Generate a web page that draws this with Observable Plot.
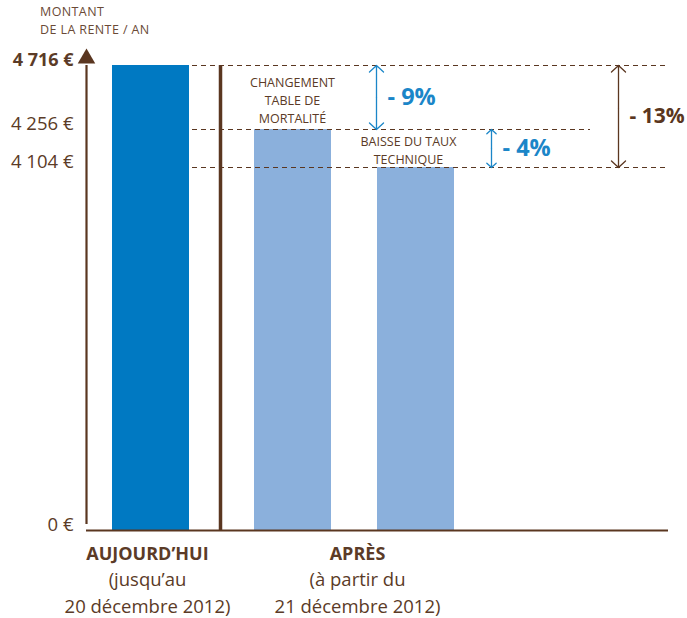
<!DOCTYPE html>
<html><head><meta charset="utf-8">
<script src="https://cdn.jsdelivr.net/npm/d3@7"></script>
<script src="https://cdn.jsdelivr.net/npm/@observablehq/plot@0.6"></script>
<style>
body{margin:0;background:#fff;font-family:"Open Sans",sans-serif;}
#wrap{width:687px;height:618px;position:relative;}
#ylab{height:42px;box-sizing:border-box;padding:3px 0 0 40px;font-size:12.5px;line-height:18px;color:#6a4a36;letter-spacing:0.4px;}
</style></head>
<body><div id="wrap"><div id="ylab">MONTANT<br>DE LA RENTE / AN</div><div id="chart"></div></div>
<script>
// values (€ per year)
const valueToday = 4716;
const valueMortality = 4256;
const valueAfter = 4104;
const yTicks = [0, 4104, 4256, 4716];
const yTickLabels = ["0 €", "4 104 €", "4 256 €", "4 716 €"];
const bars = [
  {name: "Aujourd'hui", value: valueToday, x1: 26, x2: 103, color: "#0079C2"},
  {name: "Après (mortalité)", value: valueMortality, x1: 168, x2: 245, color: "#8BB0DC"},
  {name: "Après (taux)", value: valueAfter, x1: 291, x2: 368, color: "#8BB0DC"}
];
const guides = [
  {y: valueToday, x1: 106, x2: 582},
  {y: valueMortality, x1: 106, x2: 504},
  {y: valueAfter, x1: 106, x2: 582}
];
const changes = [
  {from: valueToday, to: valueMortality, x: 290, label: "- 9%", labelY: 4486, color: "#1B86C8", size: 23.5},
  {from: valueMortality, to: valueAfter, x: 405, label: "- 4%", labelY: 4180, color: "#1B86C8", size: 23.5},
  {from: valueToday, to: valueAfter, x: 532, label: "- 13%", labelY: 4350, color: "#5A3620", size: 21}
];
const notes = [
  {text: "CHANGEMENT\nTABLE DE\nMORTALITÉ", x: 206, y: 4472},
  {text: "BAISSE DU TAUX\nTECHNIQUE", x: 322, y: 4176}
];
const groups = [
  {title: "AUJOURD’HUI", line1: "(jusqu’au", line2: "20 décembre 2012)", x: 61},
  {title: "APRÈS", line1: "(à partir du", line2: "21 décembre 2012)", x: 271}
];
const separatorX = 134;

const brown = "#5A3620";
const textBrown = "#5B3B27";

const chart = Plot.plot({
  width: 687,
  height: 576,
  marginLeft: 86,
  marginRight: 19,
  marginTop: 23,
  marginBottom: 88,
  style: {fontFamily: "'Open Sans', sans-serif", background: "#fff"},
  x: {type: "linear", domain: [0, 582], axis: null},
  y: {type: "linear", domain: [0, valueAfter, valueMortality, valueToday], range: [488, 125, 87, 23], axis: null},
  marks: [
    Plot.rectY(bars, {x1: "x1", x2: "x2", y: "value", fill: "color"}),
    Plot.ruleY(guides, {y: "y", x1: "x1", x2: "x2", stroke: brown, strokeWidth: 1, strokeDasharray: "5,4"}),
    Plot.ruleX([separatorX], {y1: 0, y2: valueToday, stroke: brown, strokeWidth: 3.5}),
    // y axis with arrow head
    Plot.ruleX([0], {y1: 0, y2: valueToday, stroke: brown, strokeWidth: 2.2, insetTop: -6}),
    Plot.dot([valueToday], {x: () => 0, y: d => d, dy: -7, symbol: "triangle", r: 6.5, fill: brown, stroke: "none"}),
    Plot.ruleY([0], {x1: 0, x2: 582, stroke: brown, strokeWidth: 2.2}),
    // y tick labels
    Plot.text(yTicks.slice(0, 3), {y: d => d, text: (d, i) => yTickLabels[i], frameAnchor: "left", textAnchor: "end", dx: -13, dy: -5, fontSize: 18.5, fill: textBrown}),
    Plot.text([valueToday], {y: d => d, text: () => yTickLabels[3], frameAnchor: "left", textAnchor: "end", dx: -13, dy: -5, fontSize: 18, fontWeight: "bold", fill: textBrown}),
    // change arrows (double headed)
    Plot.arrow(changes, {x1: "x", x2: "x", y1: d => (d.from + d.to) / 2, y2: "from", stroke: "color", strokeWidth: 1.3, headLength: 11, headAngle: 95}),
    Plot.arrow(changes, {x1: "x", x2: "x", y1: d => (d.from + d.to) / 2, y2: "to", stroke: "color", strokeWidth: 1.3, headLength: 11, headAngle: 95}),
    Plot.text(changes, {x: "x", y: "labelY", text: "label", fill: "color", dx: 11, textAnchor: "start", fontSize: "size", fontWeight: "bold"}),
    // notes
    Plot.text(notes, {x: "x", y: "y", text: "text", fill: textBrown, fontSize: 12.5, lineHeight: 1.45}),
    // category labels
    Plot.text(groups, {x: "x", y: () => 0, text: "title", dy: 24, fill: textBrown, fontSize: 18, fontWeight: "bold"}),
    Plot.text(groups, {x: "x", y: () => 0, text: "line1", dy: 50, fill: textBrown, fontSize: 18.5}),
    Plot.text(groups, {x: "x", y: () => 0, text: "line2", dy: 77, fill: textBrown, fontSize: 18.5})
  ]
});
document.getElementById("chart").appendChild(chart);
</script></body></html>
